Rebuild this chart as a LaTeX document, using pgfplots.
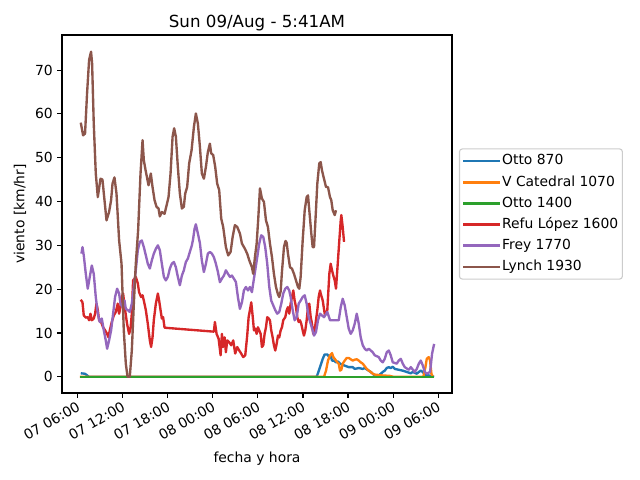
\documentclass[border=0pt]{standalone}
\usepackage{pgfplots}
\pgfplotsset{compat=1.18}
\usepackage{fontspec}
\setmainfont{DejaVu Sans}
\definecolor{c0}{HTML}{1F77B4}
\definecolor{c1}{HTML}{FF7F0E}
\definecolor{c2}{HTML}{2CA02C}
\definecolor{c3}{HTML}{D62728}
\definecolor{c4}{HTML}{9467BD}
\definecolor{c5}{HTML}{8C564B}
\begin{document}
\begin{tikzpicture}
\path[use as bounding box] (0,0) rectangle (460.8pt,345.6pt);
\begin{axis}[
  at={(44.64pt,62.64pt)}, anchor=south west,
  scale only axis, width=280.8pt, height=257.76pt,
  xmin=3.9, xmax=55.85, ymin=-3.7, ymax=78,
  axis line style={line width=0.8pt},
  tick align=outside, tick pos=left,
  major tick length=3.5pt,
  every tick/.style={black, line width=0.8pt},
  /pgf/number format/assume math mode=true,
  ticklabel style={font=\fontsize{10}{12}\selectfont},
  xtick={6,12,18,24,30,36,42,48,54},
  xticklabels={07 06:00,07 12:00,07 18:00,08 00:00,08 06:00,08 12:00,08 18:00,09 00:00,09 06:00},
  xticklabel style={rotate=30, anchor=north east, inner sep=1pt, xshift=-1pt},
  ytick={0,10,20,30,40,50,60,70},
  yticklabel style={inner sep=1pt, xshift=-2pt},
  title={Sun 09/Aug - 5:41AM},
  every axis title/.style={at={(axis description cs:0.5,1)}, anchor=center, yshift=8.6pt, font=\fontsize{12}{14}\selectfont},
  xlabel={fecha y hora},
  every axis x label/.style={at={(axis description cs:0.5,0)}, anchor=center, yshift=-47pt, font=\fontsize{10}{12}\selectfont},
  ylabel={viento [km/hr]},
  every axis y label/.style={at={(axis description cs:0,0.5)}, xshift=-30.2pt, rotate=90, anchor=center, font=\fontsize{10}{12}\selectfont},
  legend cell align=left,
  legend image code/.code={\draw[#1] (0pt,0pt) -- (20pt,0pt); \path (0pt,0pt) -- (26pt,0pt);},
  legend style={at={(axis description cs:1,0.5)}, xshift=5pt, anchor=west,
    draw=black!20, rounded corners=2pt, line width=0.8pt,
    font=\fontsize{10}{12}\selectfont, inner xsep=2pt, inner ysep=3pt, row sep=3.5pt,
    nodes={inner sep=1pt, text height=7.5pt, text depth=2.2pt}},
  every axis plot/.append style={line width=1.7pt, line join=round},
]
% Otto 870
\addplot[c0] coordinates {(6.4,0.8)(6.93,0.7)(7.2,0.4)(7.47,0)(37.83,0)(38.27,2.2)(38.63,4.1)(38.89,5.1)(39.24,5.1)(39.51,4.5)(39.69,4.8)(39.87,3.7)(40.13,3.7)(40.4,3.3)(40.67,3.5)(40.93,3.0)(41.47,2.6)(42.09,2.2)(42.63,2.2)(42.89,1.8)(43.43,2.0)(43.96,1.8)(44.23,2.0)(44.76,1.4)(45.03,1.1)(45.29,0.7)(45.56,0.3)(46.09,0.3)(46.36,0.7)(46.63,1.1)(46.89,1.4)(47.16,2.0)(47.43,2.2)(47.69,2.0)(47.96,2.3)(48.23,1.8)(48.76,1.6)(49.29,1.4)(49.83,1.1)(50.36,0.8)(50.63,1.1)(51.16,0.7)(51.43,1.1)(51.69,1.4)(51.96,1.1)(52.23,0.5)(52.76,0.3)(53.47,0)};
\addlegendentry{Otto 870}
% V Catedral 1070
\addplot[c1] coordinates {(6.27,0)(38.8,0)(39.07,1.4)(39.33,3.7)(39.6,4.9)(39.87,5.4)(40.04,4.5)(40.23,4.1)(40.4,3.7)(40.57,3.3)(40.76,3.0)(40.93,1.4)(41.11,1.6)(41.29,3.0)(41.56,3.7)(41.83,4.3)(42.09,4.3)(42.36,4.0)(42.63,3.7)(42.89,3.9)(43.16,4.0)(43.43,3.7)(43.69,3.3)(43.96,3.0)(44.23,2.4)(44.49,1.8)(44.76,1.4)(45.03,1.1)(45.29,0.7)(45.56,0.5)(46.09,0.4)(46.63,0.3)(47.6,0.2)(48.04,0)(52.04,0)(52.31,2.2)(52.49,4.1)(52.76,4.5)(52.93,3.7)(53.11,0.7)(53.29,0)};
\addlegendentry{V Catedral 1070}
% Otto 1400
\addplot[c2] coordinates {(6.36,0)(20,0)(40,0)(53.47,0)};
\addlegendentry{Otto 1400}
% Refu Lopez 1600
\addplot[c3] coordinates {(6.4,17.6)(6.63,17.0)(6.8,14.0)(7.07,13.5)(7.33,13.6)(7.51,12.9)(7.69,14.4)(7.87,12.9)(8.13,13.3)(8.31,14.4)(8.49,16.7)(8.67,15.2)(8.84,12.9)(9.11,12.5)(9.37,11.3)(9.64,10.6)(9.91,9.8)(10.09,9.0)(10.27,10.6)(10.53,12.5)(10.8,14.0)(11.07,14.8)(11.33,16.7)(11.51,14.4)(11.69,15.9)(11.87,18.2)(12.04,19.0)(12.31,15.2)(12.57,12.1)(12.84,9.8)(13.03,11.0)(13.2,14.4)(13.37,22.0)(13.56,22.4)(13.73,22.8)(14.0,21.3)(14.17,19.3)(14.44,18.2)(14.63,18.6)(14.8,17.4)(15.07,15.2)(15.33,12.1)(15.6,8.3)(15.77,6.8)(15.96,9.0)(16.13,12.9)(16.4,16.7)(16.67,19.0)(16.84,17.4)(17.03,15.2)(17.2,13.3)(17.37,13.6)(17.56,11.2)(24.13,10.3)(24.27,12.5)(24.49,9.8)(24.76,8.7)(25.03,4.9)(25.2,9.8)(25.37,6.8)(25.56,9.0)(25.73,5.6)(25.91,8.3)(26.17,7.9)(26.44,7.2)(26.71,8.3)(26.97,5.3)(27.24,6.8)(27.51,6.0)(27.77,5.3)(28.04,4.5)(28.31,4.9)(28.57,9.4)(28.76,13.6)(28.93,15.2)(29.11,17.0)(29.29,14.0)(29.47,10.6)(29.64,11.0)(29.83,9.8)(30.0,11.3)(30.17,10.6)(30.36,9.8)(30.53,6.8)(30.71,7.2)(30.89,9.8)(31.07,11.3)(31.24,13.6)(31.43,13.3)(31.6,12.9)(31.77,10.6)(31.96,9.0)(32.13,7.2)(32.31,6.0)(32.49,7.5)(32.67,9.4)(32.84,9.0)(33.03,10.6)(33.2,11.3)(33.37,12.9)(33.64,13.6)(33.83,15.2)(34.0,15.9)(34.17,14.4)(34.36,16.7)(34.53,18.2)(34.71,19.7)(34.89,17.4)(35.07,15.9)(35.24,13.6)(35.43,12.5)(35.6,12.9)(35.77,12.1)(35.96,10.6)(36.13,9.4)(36.31,10.6)(36.49,12.9)(36.67,15.9)(36.84,16.7)(37.03,13.6)(37.2,12.1)(37.37,9.8)(37.56,10.6)(37.73,12.9)(37.91,15.2)(38.09,18.2)(38.27,19.7)(38.36,19.0)(38.63,17.4)(38.93,14.0)(39.24,15.2)(39.51,23.5)(39.69,25.8)(39.87,24.3)(40.04,23.1)(40.23,22.0)(40.4,20.1)(40.57,24.3)(40.84,31.1)(41.03,35.7)(41.11,36.9)(41.29,34.2)(41.47,30.8)};
\addlegendentry{Refu López 1600\hspace{2.5pt}}
% Frey 1770
\addplot[c4] coordinates {(6.49,28.1)(6.63,29.6)(6.8,27.7)(7.07,23.5)(7.33,20.1)(7.6,22.8)(7.87,25.4)(8.13,23.5)(8.4,18.2)(8.67,14.4)(8.93,12.5)(9.2,13.3)(9.47,10.6)(9.73,8.3)(9.91,6.4)(10.17,8.3)(10.44,10.6)(10.71,14.4)(10.97,18.2)(11.24,20.1)(11.51,19.0)(11.69,16.7)(11.96,15.9)(12.23,17.4)(12.4,15.5)(12.67,15.2)(12.93,14.8)(13.2,16.7)(13.47,20.5)(13.73,24.3)(14.0,28.9)(14.27,30.8)(14.53,31.1)(14.8,29.6)(15.07,27.7)(15.33,25.8)(15.6,24.7)(15.87,26.6)(16.13,28.1)(16.4,29.2)(16.67,30.0)(16.93,28.9)(17.2,25.8)(17.47,22.8)(17.73,22.0)(18.0,22.8)(18.27,24.7)(18.53,25.8)(18.8,26.2)(19.07,25.0)(19.33,22.8)(19.6,20.9)(19.87,23.1)(20.13,24.3)(20.4,26.2)(20.67,27.0)(20.93,28.5)(21.2,30.0)(21.37,31.5)(21.56,33.8)(21.73,34.8)(22.0,32.7)(22.27,30.5)(22.53,26.5)(22.8,23.9)(23.07,25.8)(23.33,28.1)(23.6,28.5)(23.87,28.1)(24.13,27.3)(24.4,25.8)(24.67,23.9)(24.93,21.6)(25.2,22.4)(25.47,23.1)(25.73,24.3)(26.0,23.5)(26.27,22.8)(26.53,23.1)(26.8,22.4)(27.07,21.6)(27.33,18.2)(27.6,15.5)(27.87,17.0)(28.13,19.7)(28.4,20.5)(28.67,19.7)(28.93,20.5)(29.2,19.3)(29.37,21.3)(29.64,24.3)(29.91,27.3)(30.17,30.4)(30.44,32.3)(30.71,31.9)(30.97,29.6)(31.24,25.8)(31.51,20.5)(31.77,17.4)(32.04,16.3)(32.31,15.2)(32.57,14.4)(32.84,14.8)(33.11,16.7)(33.37,19.0)(33.64,20.1)(33.91,20.5)(34.17,19.7)(34.36,18.2)(34.63,15.2)(34.89,12.9)(35.16,13.6)(35.43,16.7)(35.69,17.4)(35.96,18.2)(36.23,18.6)(36.49,16.7)(36.76,13.6)(37.03,12.1)(37.29,10.6)(37.47,9.4)(37.73,10.2)(38.0,12.9)(38.27,14.4)(38.8,13.6)(39.24,14.8)(39.6,12.9)(40.13,12.9)(40.76,12.9)(41.03,15.9)(41.29,17.8)(41.56,16.3)(41.83,13.6)(42.09,11.0)(42.36,9.8)(42.63,10.6)(42.89,12.1)(43.16,14.4)(43.43,12.1)(43.69,9.0)(43.96,7.2)(44.23,6.4)(44.49,6.0)(44.76,6.4)(45.03,6.0)(45.29,5.6)(45.56,4.9)(46.09,4.5)(46.36,3.7)(46.63,3.3)(46.89,4.1)(47.16,5.6)(47.43,6.0)(47.69,4.9)(47.96,3.3)(48.49,3.0)(48.76,3.7)(49.03,4.1)(49.29,3.0)(49.56,2.2)(50.09,1.6)(50.36,2.2)(50.89,1.1)(51.16,1.8)(51.43,3.0)(51.69,3.7)(51.96,2.6)(52.23,1.1)(52.49,0.7)(52.93,1.1)(53.2,5.3)(53.47,7.5)};
\addlegendentry{Frey 1770}
% Lynch 1930
\addplot[c5] coordinates {(6.40,58.0)(6.71,55.1)(6.97,55.5)(7.24,64.7)(7.51,72.3)(7.77,74.2)(7.91,71.5)(8.13,57.8)(8.40,46.4)(8.67,41.0)(9.03,45.2)(9.29,45.0)(9.56,40.3)(9.83,35.7)(10.17,37.6)(10.44,40.3)(10.63,44.1)(10.89,45.5)(11.16,41.8)(11.51,31.1)(11.83,25.8)(12.13,10.6)(12.40,3.0)(12.63,0)(12.93,0)(13.20,6.0)(13.47,16.7)(13.73,25.8)(14.04,33.4)(14.36,46.4)(14.63,54.0)(14.80,49.4)(15.07,46.8)(15.43,43.7)(15.73,46.4)(15.96,43.3)(16.23,40.3)(16.49,38.8)(16.76,38.4)(16.93,36.6)(17.20,37.6)(17.56,37.2)(17.83,39.1)(18.09,41.0)(18.36,46.4)(18.63,54.8)(18.84,56.7)(19.07,54.8)(19.33,47.9)(19.60,41.8)(19.87,38.4)(20.13,38.8)(20.31,41.8)(20.57,43.3)(20.84,48.7)(21.16,51.7)(21.47,57.0)(21.73,60.1)(22.00,57.8)(22.27,52.5)(22.53,46.4)(22.80,45.2)(23.07,47.9)(23.33,51.3)(23.60,53.2)(23.77,51.0)(24.04,50.6)(24.31,47.9)(24.57,44.1)(24.84,42.6)(25.11,36.1)(25.37,34.2)(25.73,29.6)(26.04,27.7)(26.36,28.5)(26.63,31.9)(26.93,34.6)(27.24,34.2)(27.60,32.7)(27.87,30.4)(28.27,29.2)(28.57,28.1)(28.84,26.6)(29.20,25.0)(29.37,23.5)(29.60,27.3)(29.83,30.4)(30.04,36.0)(30.27,43.0)(30.53,40.7)(30.8,39.9)(31.07,35.7)(31.33,34.2)(31.6,30.4)(31.87,27.3)(32.13,23.5)(32.4,20.5)(32.67,18.8)(32.84,18.2)(33.03,19.5)(33.2,24.0)(33.47,29.6)(33.67,31.0)(33.83,30.6)(34.0,28.1)(34.27,25.0)(34.53,24.7)(34.8,23.5)(35.07,22.0)(35.33,20.5)(35.51,20.1)(35.69,22.8)(35.96,31.1)(36.23,38.0)(36.49,41.0)(36.67,41.4)(36.84,38.0)(37.11,32.7)(37.29,29.6)(37.47,29.6)(37.64,35.0)(37.91,44.1)(38.17,48.7)(38.36,49.0)(38.53,47.1)(38.8,45.2)(39.07,43.3)(39.33,43.3)(39.6,41.0)(39.77,40.3)(39.96,38.0)(40.23,36.9)(40.4,38.0)};
\addlegendentry{Lynch 1930}
\end{axis}
\end{tikzpicture}
\end{document}
